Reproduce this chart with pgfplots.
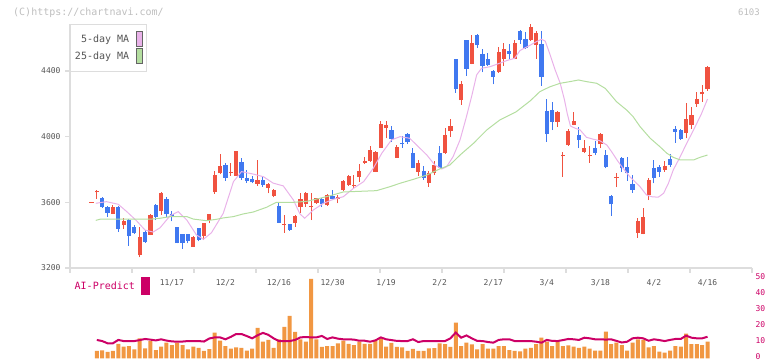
\documentclass[border=0pt]{standalone}
\usepackage{pgfplots}
\pgfplotsset{compat=1.18}
\usepackage{pgfplotstable}
\usepackage{fontspec}
\setmainfont{DejaVu Sans Mono}
\definecolor{cRed}{RGB}{240,82,64}
\definecolor{cBlue}{RGB}{64,120,240}
\definecolor{cPink}{RGB}{233,178,233}
\definecolor{cGreen}{RGB}{180,222,160}
\definecolor{cVol}{RGB}{241,151,66}
\definecolor{cMag}{RGB}{204,0,102}
\definecolor{cAxis}{RGB}{221,221,221}
\definecolor{cText}{RGB}{85,85,85}
\definecolor{cHead}{RGB}{190,190,190}
\definecolor{cSw}{RGB}{100,100,100}

% up (red) candles
\pgfplotstableread{
i O H L C
0 3597 3603 3597 3603
1 3660 3676 3622 3670
4 3531 3584 3528 3570
6 3460 3506 3439 3488
9 3277 3448 3265 3389
11 3403 3530 3400 3523
13 3549 3665 3523 3655
19 3330 3395 3328 3387
21 3395 3475 3370 3472
22 3492 3530 3472 3529
23 3661 3790 3653 3766
24 3777 3894 3770 3821
26 3778 3838 3762 3784
27 3762 3915 3760 3913
31 3712 3855 3700 3736
33 3689 3715 3655 3712
34 3640 3680 3630 3675
36 3462 3521 3415 3468
38 3476 3520 3452 3517
39 3573 3655 3537 3618
40 3590 3660 3573 3655
41 3570 3655 3492 3576
42 3598 3628 3590 3624
44 3584 3650 3580 3642
46 3618 3644 3594 3632
47 3675 3738 3670 3732
48 3706 3766 3700 3760
49 3700 3766 3690 3706
50 3754 3833 3724 3791
51 3842 3874 3833 3850
52 3852 3940 3848 3919
53 3787 3915 3785 3907
54 3933 4095 3930 4078
55 4050 4095 3990 4070
57 3872 3950 3870 3937
61 3787 3858 3760 3839
63 3720 3790 3695 3781
64 3776 3852 3765 3827
66 3900 4051 3895 4010
67 4037 4106 4000 4065
69 4223 4339 4193 4321
71 4443 4619 4440 4572
76 4396 4548 4390 4516
77 4473 4572 4432 4534
79 4473 4590 4470 4572
82 4588 4686 4585 4665
83 4558 4645 4473 4634
87 4091 4158 4061 4152
88 3880 3908 3756 3886
89 3949 4047 3943 4036
90 4071 4148 4068 4098
92 3908 3980 3898 3933
93 3882 3943 3841 3888
95 3953 4020 3930 4016
98 3748 3777 3692 3754
102 3415 3506 3385 3486
103 3407 3567 3405 3513
104 3645 3750 3614 3736
107 3797 3850 3787 3823
111 4024 4207 3990 4108
112 4071 4183 4045 4132
113 4199 4274 4183 4229
114 4258 4315 4213 4274
115 4290 4430 4280 4427
}\upT

% down (blue) candles
\pgfplotstableread{
i O H L C
2 3628 3630 3568 3570
3 3573 3580 3513 3537
5 3570 3580 3420 3440
7 3492 3500 3336 3395
8 3450 3460 3410 3415
10 3419 3430 3355 3358
12 3584 3590 3492 3513
14 3620 3630 3513 3527
15 3530 3547 3484 3513
16 3448 3450 3350 3352
17 3405 3410 3318 3352
18 3405 3410 3350 3366
20 3442 3445 3362 3370
25 3827 3841 3732 3750
28 3848 3870 3735 3747
29 3747 3797 3720 3732
30 3740 3760 3715 3722
32 3736 3760 3695 3706
35 3578 3594 3474 3476
37 3466 3470 3428 3432
43 3618 3625 3570 3588
45 3636 3675 3612 3620
56 4040 4065 3966 3986
58 3960 4004 3933 3954
59 4016 4025 3955 3966
60 3900 3930 3810 3812
62 3791 3821 3736 3750
65 3900 3943 3808 3811
68 4473 4475 4268 4290
70 4588 4590 4371 4412
72 4619 4625 4542 4558
73 4503 4534 4392 4432
74 4473 4511 4430 4437
75 4400 4403 4318 4365
78 4522 4565 4473 4505
80 4644 4650 4565 4588
81 4595 4640 4535 4542
84 4565 4644 4311 4365
85 4158 4229 3970 4016
86 4162 4213 4040 4091
91 4010 4057 3930 3980
94 3933 3974 3888 3902
96 3888 3919 3807 3817
97 3640 3644 3517 3588
99 3872 3878 3787 3807
100 3815 3878 3732 3777
101 3712 3766 3659 3677
105 3811 3858 3716 3750
106 3817 3827 3756 3787
108 3864 3894 3817 3827
109 4047 4065 3964 4030
110 4040 4045 3980 3984
}\downT

% volume and AI-Predict
\pgfplotstableread{
i v a
1 4.7 11.6
2 5.0 10.9
3 4.1 9.5
4 4.7 9.5
5 9.1 11.6
6 7.4 10.9
7 7.8 10.9
8 5.7 10.9
9 12.6 11.5
10 6.4 12.2
11 10.9 11.8
12 5.3 11.3
13 7.4 12.0
14 9.9 11.2
15 8.4 10.7
16 9.9 10.5
17 8.4 10.6
18 5.7 10.9
19 7.4 10.9
20 6.6 10.9
21 4.7 10.6
22 5.9 12.5
23 16.1 13.2
24 11.1 13.2
25 7.8 12.0
26 6.1 13.5
27 7.0 15.3
28 6.6 15.3
29 4.9 14.0
30 6.1 12.6
31 19.1 14.5
32 10.5 16.0
33 11.6 14.8
34 6.6 12.6
35 12.0 10.9
36 19.7 10.9
37 26.6 10.9
38 16.6 11.6
39 12.0 13.2
40 10.5 13.4
41 49.7 13.2
42 12.0 13.2
43 7.2 14.1
44 7.8 12.2
45 7.8 13.2
46 9.5 12.4
47 11.1 12.0
48 9.1 12.0
49 8.4 11.8
50 10.5 11.1
51 9.1 11.1
52 9.1 10.5
53 11.6 11.3
54 12.6 13.2
55 7.4 12.0
56 9.7 11.5
57 7.2 11.0
58 7.0 10.9
59 4.8 10.9
60 6.0 12.0
61 4.8 10.3
62 4.8 10.9
63 6.3 10.9
64 6.5 10.9
65 9.5 10.9
66 9.0 10.9
67 7.2 12.6
68 22.4 16.2
69 7.8 13.0
70 9.9 14.4
71 8.8 12.6
72 5.7 11.0
73 9.0 10.9
74 6.2 10.3
75 6.2 9.9
76 7.8 11.6
77 7.8 12.0
78 5.3 12.0
79 4.7 10.9
80 4.5 10.9
81 6.2 10.9
82 6.6 10.9
83 9.0 10.5
84 13.1 9.9
85 10.5 11.6
86 7.8 11.0
87 10.5 10.9
88 7.8 11.5
89 8.2 12.2
90 7.4 12.0
91 6.6 11.6
92 7.4 13.0
93 6.2 12.6
94 4.9 12.0
95 4.9 12.0
96 16.8 11.8
97 9.0 12.0
98 9.9 11.0
99 8.4 10.0
100 4.9 10.5
101 9.9 12.6
102 12.0 13.0
103 11.6 12.6
104 7.0 11.1
105 7.8 12.0
106 4.3 11.5
107 3.6 10.9
108 4.9 11.6
109 7.8 12.2
110 7.4 12.2
111 15.5 14.3
112 9.0 13.0
113 9.0 12.6
114 8.4 12.6
115 10.5 13.6
}\volT

\pgfplotsset{
  wick/.style={draw=none, mark=none, forget plot, error bars/.cd, y dir=plus, y explicit, error mark=none,
    error bar style={draw=#1, line width=1pt}},
  body/.style={draw=none, mark=none, forget plot, error bars/.cd, y dir=plus, y explicit, error mark=none,
    error bar style={draw=#1, line width=4.2pt}},
}

\begin{document}
\begin{tikzpicture}
\useasboundingbox (0pt,0pt) rectangle (772pt,361pt);
\node[anchor=west, inner sep=0pt, text=cHead, font=\fontsize{10}{10}\selectfont] at (13pt,348.5pt) {(C)https://chartnavi.com/};
\node[anchor=east, inner sep=0pt, text=cHead, font=\fontsize{9}{9}\selectfont] at (760pt,348.5pt) {6103};

\begin{axis}[
  at={(70pt,93pt)}, anchor=south west, scale only axis,
  width=682pt, height=244pt,
  xmin=-4.01, xmax=123.3, ymin=3200, ymax=4686,
  axis x line*=bottom, axis y line*=left,
  axis line style={draw=cAxis, line width=1.5pt},
  tick style={draw=cAxis, line width=1.5pt},
  tick align=outside, major tick length=5pt,
  xtick={-4.01,7.56,19.14,30.71,42.29,53.86,65.43,77.01,88.58,100.16,111.73,123.3},
  xticklabels={},
  extra x ticks={15,25,35,45,55,65,75,85,95,105,115},
  extra x tick labels={11/17,12/2,12/16,12/30,1/19,2/2,2/17,3/4,3/18,4/2,4/16},
  extra x tick style={major tick length=0pt, tick style={draw=none}, xticklabel style={anchor=base, yshift=-18pt}},
  xticklabel style={font=\fontsize{8}{8}\selectfont, text=cText},
  ytick={3200,3600,4000,4400}, yticklabels={3200,3600,4000,4400},
  yticklabel style={font=\fontsize{8}{8}\selectfont, text=cText, xshift=-1pt},
  legend style={at={(0,1)}, anchor=north west, draw=cAxis, line width=1pt, fill=white,
    font=\fontsize{10}{10}\selectfont, text=cText, inner xsep=4pt, inner ysep=7pt,
    row sep=0.6pt, column sep=6pt, nodes={inner sep=0.5pt}},
  legend plot pos=right, legend cell align=right,
  legend image code/.code={\draw[#1, draw=cSw, line width=1pt, fill] (0pt,-7.5pt) rectangle (6pt,7.5pt);},
]
% wicks and bodies
\addplot[wick=cRed] table[x=i, y=L, y error plus expr=\thisrow{H}-\thisrow{L}] {\upT};
\addplot[body=cRed] table[x=i, y=O, y error plus expr=\thisrow{C}-\thisrow{O}] {\upT};
\addplot[wick=cBlue] table[x=i, y=L, y error plus expr=\thisrow{H}-\thisrow{L}] {\downT};
\addplot[body=cBlue] table[x=i, y=C, y error plus expr=\thisrow{O}-\thisrow{C}] {\downT};
% moving averages
\addplot[cPink, line width=1pt, mark=none]
coordinates {(0.8,3594)(2.8,3604)(5.0,3588)(6.6,3543)(8.4,3488)(10.0,3431)(11.5,3419)(12.8,3445)(14.7,3519)(16.2,3543)(17.8,3492)(19.6,3401)(20.9,3375)(22.4,3415)(24.6,3533)(26.5,3726)(28.0,3787)(30.2,3772)(32.1,3756)(33.9,3717)(35.8,3700)(37.7,3614)(38.9,3530)(39.8,3503)(41.4,3553)(43.3,3594)(45.1,3618)(47.0,3634)(48.9,3685)(50.8,3726)(52.6,3807)(54.2,3899)(56.0,3980)(57.6,4000)(59.4,3990)(60.7,3949)(62.6,3888)(64.1,3827)(65.4,3803)(66.3,3817)(67.5,3878)(68.8,3980)(70.0,4122)(71.0,4250)(71.9,4376)(72.8,4416)(74.4,4426)(76.2,4447)(77.5,4463)(79.0,4477)(80.0,4525)(81.5,4550)(83.1,4579)(84.0,4593)(84.7,4582)(85.6,4500)(86.5,4411)(87.5,4325)(88.3,4223)(88.8,4142)(89.4,4065)(90.3,4051)(91.2,4041)(92.4,3996)(93.7,3984)(94.9,3975)(96.2,3949)(97.1,3908)(98.1,3858)(99.0,3817)(100.5,3756)(102.4,3695)(103.6,3645)(104.6,3634)(105.8,3631)(106.8,3655)(107.7,3716)(108.6,3797)(109.9,3878)(111.1,3959)(112.4,4041)(113.9,4142)(115.0,4229)};
\addlegendentry{5-day MA}
\addplot[cGreen, line width=1pt, mark=none]
coordinates {(0.8,3490)(1.6,3497)(10.9,3497)(12.8,3503)(14.7,3513)(17.8,3513)(19.0,3498)(21.5,3488)(23.4,3497)(24.6,3505)(26.5,3513)(28.3,3529)(30.2,3541)(32.7,3570)(34.5,3600)(37.7,3600)(40.2,3606)(42.7,3625)(45.1,3645)(47.0,3663)(50.1,3667)(53.2,3671)(55.7,3695)(57.6,3716)(60.1,3740)(62.6,3766)(65.0,3803)(66.9,3827)(68.8,3888)(71.3,3959)(73.8,4041)(76.2,4101)(79.3,4152)(81.9,4218)(83.7,4274)(85.6,4304)(87.5,4325)(89.3,4335)(90.9,4345)(92.4,4335)(94.3,4325)(95.9,4294)(96.8,4260)(98.0,4213)(99.9,4162)(101.1,4122)(102.4,4061)(104.3,3990)(106.1,3939)(107.4,3899)(108.6,3874)(109.9,3858)(112.4,3858)(113.6,3874)(115.0,3888)};
\addlegendentry{25-day MA}
\end{axis}

\begin{axis}[
  at={(70pt,2.5pt)}, anchor=south west, scale only axis,
  width=682pt, height=80pt,
  xmin=-4.01, xmax=123.3, ymin=0, ymax=50,
  axis x line=none, axis y line*=right,
  y axis line style={draw=none},
  major tick length=0pt,
  ytick={0,10,20,30,40,50}, yticklabels={0,10,20,30,40,50},
  yticklabel style={font=\fontsize{8}{8}\selectfont, text=cMag, anchor=west, yshift=1.5pt},
  clip=false,
  legend style={at={(0,1)}, anchor=north west, draw=none, fill=none,
    font=\fontsize{10}{10}\selectfont, text=cMag, inner xsep=4pt, inner ysep=0pt,
    column sep=6pt, nodes={inner sep=0.5pt}, yshift=1.5pt},
  legend plot pos=right,
  legend image code/.code={\fill[cMag] (0pt,-8pt) rectangle (7pt,8pt);},
]
\addplot[ybar, bar width=4pt, fill=cVol, draw=none, forget plot] table[x=i, y=v] {\volT};
\addplot[cMag, line width=2pt, mark=none] table[x=i, y=a] {\volT};
\addlegendentry{AI-Predict}
\end{axis}
\end{tikzpicture}
\end{document}
